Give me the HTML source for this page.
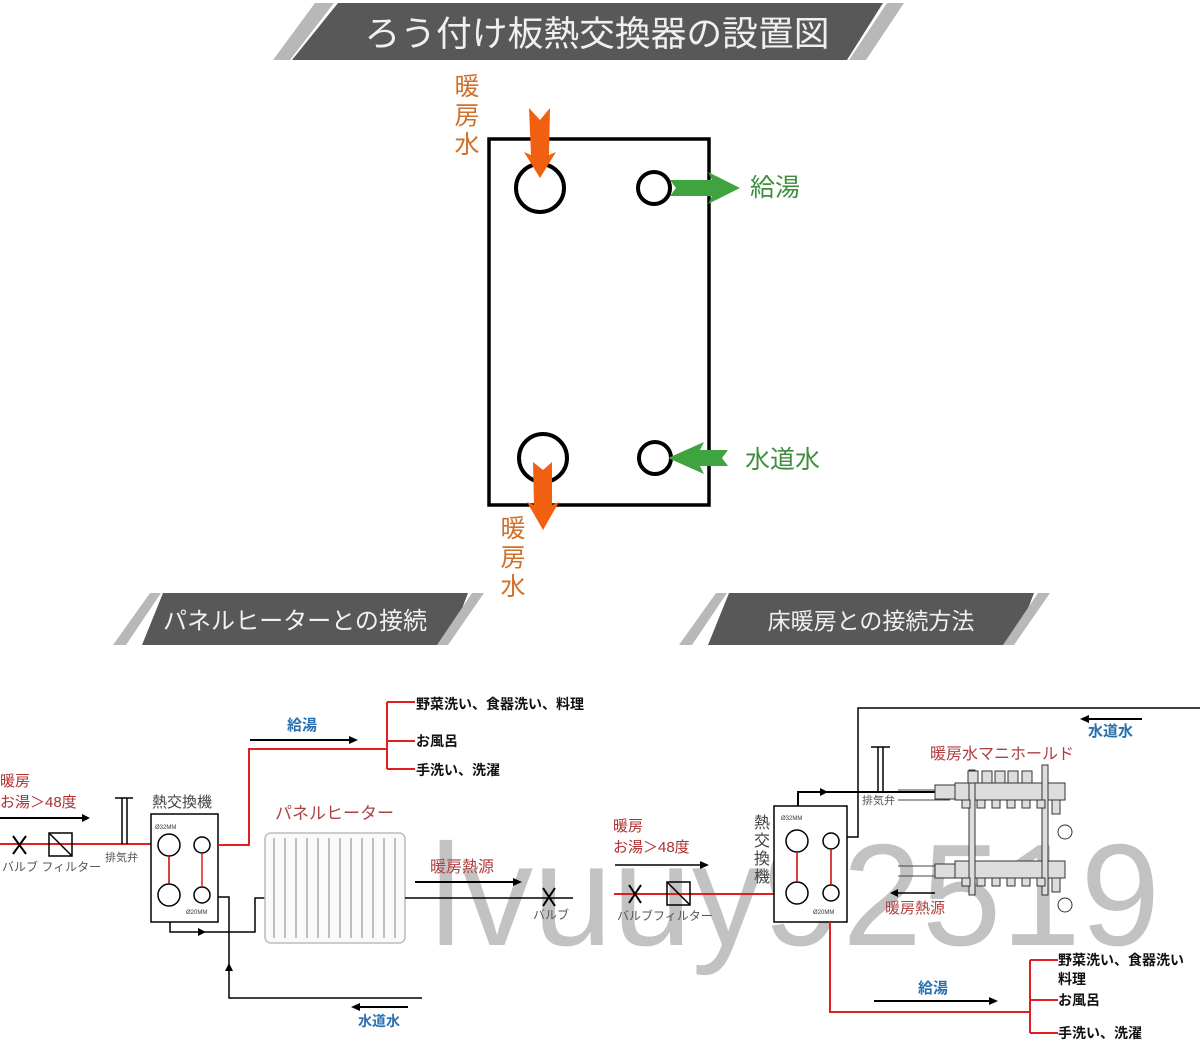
<!DOCTYPE html>
<html><head><meta charset="utf-8"><style>
html,body{margin:0;padding:0;background:#fff;}
svg{display:block;}
text{font-family:"Liberation Sans","Noto Sans CJK JP",sans-serif;}
</style></head><body>
<svg width="1200" height="1042" viewBox="0 0 1200 1042" xmlns="http://www.w3.org/2000/svg">
<!-- Top banner -->
<polygon points="315,3 334,3 290,60 273,60" fill="#b8b8b8"/>
<polygon points="338,3 883,3 847,60 292,60" fill="#585858"/>
<polygon points="887,3 904,3 866,60 849,60" fill="#b8b8b8"/>
<text x="597" y="46" font-size="35" fill="#f0f0f0" text-anchor="middle" textLength="465" lengthAdjust="spacingAndGlyphs">ろう付け板熱交換器の設置図</text>

<!-- Top diagram -->
<rect x="489" y="139" width="220" height="366" fill="none" stroke="#000" stroke-width="3.5"/>
<circle cx="540" cy="188" r="24" fill="none" stroke="#000" stroke-width="4"/>
<circle cx="654" cy="188" r="16" fill="none" stroke="#000" stroke-width="4"/>
<circle cx="543" cy="458" r="24" fill="none" stroke="#000" stroke-width="4"/>
<circle cx="655" cy="458" r="16" fill="none" stroke="#000" stroke-width="4"/>
<polygon points="529,108 540,120 550,108 549,155 556,152 540,178 524,152 531,155" fill="#f06010"/>
<polygon points="533,462 543,470 552,462 552,505 559,502 543,530 527,502 534,505" fill="#f06010"/>
<polygon points="670,180 712,180 708,172 740,188 708,204 712,196 670,196 676,188" fill="#3fa33f"/>
<polygon points="728,450 700,450 704,442 668,458 704,474 700,466 728,466 722,458" fill="#3fa33f"/>
<text font-size="25" fill="#d0702a" text-anchor="middle"><tspan x="467" y="95">暖</tspan><tspan x="467" y="124">房</tspan><tspan x="467" y="153">水</tspan></text>
<text font-size="25" fill="#d0702a" text-anchor="middle"><tspan x="513" y="537">暖</tspan><tspan x="513" y="566">房</tspan><tspan x="513" y="595">水</tspan></text>
<text x="750" y="196" font-size="25" fill="#3d8f3d">給湯</text>
<text x="745" y="468" font-size="25" fill="#3d8f3d">水道水</text>

<!-- Sub banners -->
<polygon points="150,593 161,593 126,645 113,645" fill="#b8b8b8"/>
<polygon points="163,593 468,593 448,645 142,645" fill="#585858"/>
<polygon points="472,593 484,593 448,645 437,645" fill="#b8b8b8"/>
<text x="295" y="629" font-size="24" fill="#f0f0f0" text-anchor="middle" textLength="264" lengthAdjust="spacingAndGlyphs">パネルヒーターとの接続</text>
<polygon points="716,593 727,593 692,645 679,645" fill="#b8b8b8"/>
<polygon points="729,593 1034,593 1014,645 708,645" fill="#585858"/>
<polygon points="1038,593 1050,593 1014,645 1003,645" fill="#b8b8b8"/>
<text x="871" y="629" font-size="23" fill="#f0f0f0" text-anchor="middle">床暖房との接続方法</text>

<!-- Watermark -->
<text x="430" y="945" font-size="145" fill="#9a9a9a" fill-opacity="0.6" textLength="730" lengthAdjust="spacingAndGlyphs">lvuuy92519</text>

<!-- Left diagram -->
<g font-size="15">
<text x="0" y="786" fill="#b03030">暖房</text>
<text x="0" y="807" fill="#b03030">お湯＞48度</text>
</g>
<line x1="0" y1="818" x2="84" y2="818" stroke="#000" stroke-width="2"/><polygon points="90,818 82,814 82,822"/>
<line x1="0" y1="844" x2="151" y2="844" stroke="#e02020" stroke-width="2"/>
<path d="M13,836 L26,854 M26,836 L13,854" stroke="#000" stroke-width="2"/>
<rect x="49" y="833" width="23" height="23" fill="none" stroke="#000" stroke-width="1.5"/><line x1="49" y1="833" x2="72" y2="856" stroke="#000" stroke-width="1.5"/>
<text x="2" y="871" font-size="12" fill="#555">バルブ フィルター</text>
<path d="M115,798 H133 M122,798 V844 M127,798 V844" stroke="#000" stroke-width="1.5" fill="none"/>
<text x="105" y="861" font-size="11" fill="#555">排気弁</text>
<text x="152" y="807" font-size="15" fill="#444">熱交換機</text>
<rect x="151" y="814" width="67" height="108" fill="#fff" stroke="#000" stroke-width="1.5"/>
<text x="155" y="829" font-size="6" fill="#333">Ø32MM</text><text x="186" y="914" font-size="6" fill="#333">Ø20MM</text>
<circle cx="169" cy="845" r="11" fill="none" stroke="#000" stroke-width="1.5"/><circle cx="169" cy="895" r="11" fill="none" stroke="#000" stroke-width="1.5"/>
<circle cx="202" cy="845" r="8" fill="none" stroke="#000" stroke-width="1.5"/><circle cx="202" cy="895" r="8" fill="none" stroke="#000" stroke-width="1.5"/>
<line x1="169" y1="856" x2="169" y2="884" stroke="#c00" stroke-width="1.5"/><line x1="202" y1="853" x2="202" y2="887" stroke="#e02020" stroke-width="1.5"/>
<polyline points="218,845 249,845 249,749 387,749" fill="none" stroke="#e02020" stroke-width="2"/>
<path d="M387,702 V769 M387,702 H415 M387,741 H415 M387,769 H415" stroke="#e02020" stroke-width="2" fill="none"/>
<text x="287" y="730" font-size="15" font-weight="bold" fill="#2a70b0">給湯</text>
<line x1="250" y1="740" x2="350" y2="740" stroke="#000" stroke-width="2"/><polygon points="358,740 349,736 349,744"/>
<g font-size="14" font-weight="bold" fill="#111">
<text x="416" y="709">野菜洗い、食器洗い、料理</text>
<text x="416" y="746">お風呂</text>
<text x="416" y="775">手洗い、洗濯</text>
</g>
<polyline points="218,897 229,897 229,998 422,998" fill="none" stroke="#000" stroke-width="1.5"/>
<polygon points="229,963 225,971 233,971"/>
<polyline points="170,922 170,932 255,932 255,898 265,898" fill="none" stroke="#000" stroke-width="1.5"/>
<polygon points="206,932 198,928 198,936"/>
<rect x="265" y="833" width="140" height="110" rx="6" fill="#fafafa" stroke="#bbb" stroke-width="1.5"/>
<g stroke="#aaa" stroke-width="1.5">
<line x1="274" y1="838" x2="274" y2="938"/><line x1="285" y1="838" x2="285" y2="938"/><line x1="296" y1="838" x2="296" y2="938"/><line x1="307" y1="838" x2="307" y2="938"/><line x1="318" y1="838" x2="318" y2="938"/><line x1="329" y1="838" x2="329" y2="938"/><line x1="340" y1="838" x2="340" y2="938"/><line x1="351" y1="838" x2="351" y2="938"/><line x1="362" y1="838" x2="362" y2="938"/><line x1="373" y1="838" x2="373" y2="938"/><line x1="384" y1="838" x2="384" y2="938"/><line x1="395" y1="838" x2="395" y2="938"/>
</g>
<text x="275" y="819" font-size="17" fill="#b04040">パネルヒーター</text>
<line x1="405" y1="898" x2="573" y2="898" stroke="#000" stroke-width="1.5"/>
<path d="M543,888 L555,906 M555,888 L543,906" stroke="#000" stroke-width="2"/>
<text x="533" y="919" font-size="12" fill="#555">バルブ</text>
<text x="430" y="872" font-size="16" fill="#b04040">暖房熱源</text>
<line x1="415" y1="882" x2="515" y2="882" stroke="#000" stroke-width="2"/><polygon points="522,882 513,878 513,886"/>
<text x="358" y="1026" font-size="14" font-weight="bold" fill="#2a70b0">水道水</text>
<line x1="358" y1="1007" x2="408" y2="1007" stroke="#000" stroke-width="2"/><polygon points="351,1007 360,1003 360,1011"/>

<!-- Right diagram -->
<polyline points="1200,708 858,708 858,837 847,837" fill="none" stroke="#000" stroke-width="1.5"/>
<text x="1088" y="736" font-size="15" font-weight="bold" fill="#2a70b0">水道水</text>
<line x1="1088" y1="719" x2="1142" y2="719" stroke="#000" stroke-width="2"/><polygon points="1080,719 1089,715 1089,723"/>
<text x="930" y="759" font-size="16" fill="#b04040">暖房水マニホールド</text>
<g font-size="15">
<text x="613" y="831" fill="#b03030">暖房</text>
<text x="613" y="852" fill="#b03030">お湯＞48度</text>
</g>
<line x1="615" y1="865" x2="702" y2="865" stroke="#000" stroke-width="1.5"/><polygon points="709,865 700,861 700,869"/>
<line x1="614" y1="894" x2="774" y2="894" stroke="#e02020" stroke-width="2"/>
<path d="M629,885 L641,903 M641,885 L629,903" stroke="#000" stroke-width="2"/>
<rect x="667" y="882" width="23" height="23" fill="none" stroke="#000" stroke-width="1.5"/><line x1="667" y1="882" x2="690" y2="905" stroke="#000" stroke-width="1.5"/>
<text x="617" y="920" font-size="12" fill="#555">バルブフィルター</text>
<rect x="774" y="806" width="73" height="116" fill="#fff" stroke="#000" stroke-width="1.5"/>
<text font-size="16" fill="#444" text-anchor="middle"><tspan x="762" y="828">熱</tspan><tspan x="762" y="846">交</tspan><tspan x="762" y="864">換</tspan><tspan x="762" y="882">機</tspan></text>
<text x="781" y="820" font-size="6" fill="#333">Ø32MM</text><text x="813" y="914" font-size="6" fill="#333">Ø20MM</text>
<circle cx="797" cy="841" r="11" fill="none" stroke="#000" stroke-width="1.5"/><circle cx="797" cy="893" r="11" fill="none" stroke="#000" stroke-width="1.5"/>
<circle cx="831" cy="841" r="8" fill="none" stroke="#000" stroke-width="1.5"/><circle cx="831" cy="893" r="8" fill="none" stroke="#000" stroke-width="1.5"/>
<line x1="797" y1="852" x2="797" y2="882" stroke="#c00" stroke-width="1.5"/><line x1="831" y1="849" x2="831" y2="885" stroke="#c00" stroke-width="1.5"/>
<polyline points="798,806 798,792 950,792" fill="none" stroke="#000" stroke-width="2"/>
<polygon points="828,792 820,788 820,796"/>
<path d="M871,747 H890 M878,747 V792 M883,747 V792" stroke="#000" stroke-width="1.5" fill="none"/>
<text x="862" y="804" font-size="11" fill="#555">排気弁</text>
<line x1="898" y1="790" x2="950" y2="790" stroke="#444" stroke-width="1"/><line x1="898" y1="800" x2="950" y2="800" stroke="#444" stroke-width="1"/>
<line x1="898" y1="866" x2="950" y2="866" stroke="#444" stroke-width="1"/><line x1="898" y1="876" x2="950" y2="876" stroke="#444" stroke-width="1"/>
<!-- manifold -->
<g fill="#ddd" stroke="#333" stroke-width="1">
<rect x="955" y="783" width="110" height="17"/>
<rect x="955" y="861" width="110" height="17"/>
<rect x="969" y="770" width="6" height="125"/>
<rect x="1042" y="765" width="6" height="130"/>
<rect x="935" y="785" width="20" height="14"/><rect x="935" y="864" width="20" height="14"/>
<rect x="968" y="771" width="10" height="12"/><rect x="982" y="771" width="10" height="12"/><rect x="995" y="771" width="10" height="12"/><rect x="1008" y="771" width="10" height="12"/><rect x="1022" y="771" width="10" height="12"/>
<rect x="962" y="800" width="8" height="8"/><rect x="977" y="800" width="8" height="8"/><rect x="992" y="800" width="8" height="8"/><rect x="1007" y="800" width="8" height="8"/><rect x="1022" y="800" width="8" height="8"/><rect x="1037" y="800" width="8" height="8"/>
<rect x="962" y="878" width="8" height="8"/><rect x="977" y="878" width="8" height="8"/><rect x="992" y="878" width="8" height="8"/><rect x="1007" y="878" width="8" height="8"/><rect x="1022" y="878" width="8" height="8"/><rect x="1037" y="878" width="8" height="8"/>
<rect x="1052" y="800" width="8" height="14"/><rect x="1052" y="878" width="8" height="14"/>
</g>
<circle cx="1065" cy="832" r="7" fill="#fff" stroke="#333"/><circle cx="1065" cy="905" r="7" fill="#fff" stroke="#333"/>
<text x="885" y="913" font-size="15" fill="#b04040">暖房熱源</text>
<line x1="897" y1="893" x2="935" y2="893" stroke="#000" stroke-width="1.5"/><polygon points="890,893 898,889 898,897"/>
<polyline points="830,922 830,1012 1030,1012" fill="none" stroke="#e02020" stroke-width="2"/>
<path d="M1030,960 V1033 M1030,960 H1058 M1030,1000 H1058 M1030,1033 H1058" stroke="#e02020" stroke-width="2" fill="none"/>
<text x="918" y="993" font-size="15" font-weight="bold" fill="#2a70b0">給湯</text>
<line x1="874" y1="1001" x2="990" y2="1001" stroke="#000" stroke-width="2"/><polygon points="998,1001 989,997 989,1005"/>
<g font-size="14" font-weight="bold" fill="#111">
<text x="1058" y="965">野菜洗い、食器洗い</text>
<text x="1058" y="984">料理</text>
<text x="1058" y="1005">お風呂</text>
<text x="1058" y="1038">手洗い、洗濯</text>
</g>
</svg>
</body></html>
